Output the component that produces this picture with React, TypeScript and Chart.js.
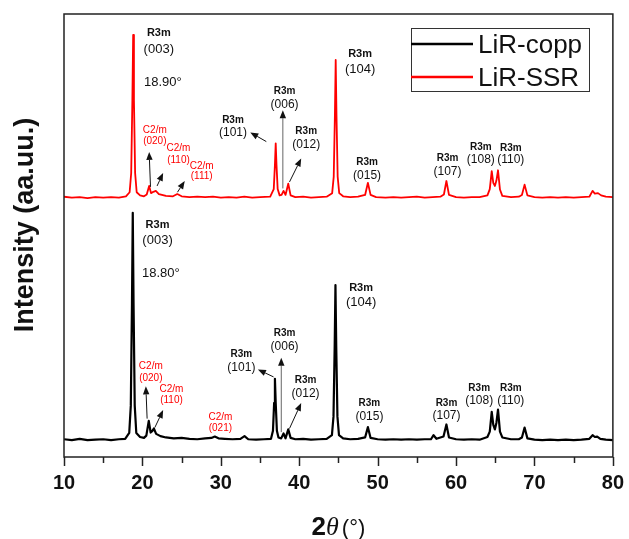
import React, { useEffect, useRef } from 'react';
import { Chart, registerables } from 'chart.js';

Chart.register(...registerables);

// ---- Data (2θ in degrees, intensity in arbitrary units; LiR-SSR is stacked above LiR-copp) ----
const copp2Theta = [
  10, 11, 12, 13, 14, 15, 16, 17, 17.8, 18.32, 18.52, 18.67, 18.77, 18.87, 19.02, 19.22, 19.7, 20.2, 20.5,
  20.81, 21.05, 21.25, 21.46, 21.75, 22.3, 23, 24, 25, 26, 27, 28, 28.8, 29.23, 29.7, 30.5, 31.5, 32.5,
  33.02, 33.5, 34.5, 35.5, 36.4, 36.65, 36.8, 36.9, 37.0, 37.15, 37.35, 37.7, 38.0, 38.25, 38.6, 38.9,
  39.5, 40.5, 41.5, 42.5, 43.5, 44.17, 44.37, 44.52, 44.62, 44.72, 44.87, 45.07, 45.6, 46.5, 47.5, 48.4,
  48.76, 49.1, 50, 51, 52, 53, 54, 55, 56, 56.8, 57.13, 57.5, 58.4, 58.77, 59.1, 60, 61, 62, 63, 64.0,
  64.3, 64.55, 64.75, 64.95, 65.15, 65.35, 65.6, 65.9, 67, 68, 68.4, 68.74, 69.1, 70, 71, 72, 73, 74, 75,
  76, 77.0, 77.41, 77.7, 78.0, 78.4, 79.1, 80,
];
const coppIntensity = [
  3.8, 3.6, 3.9, 3.6, 3.7, 3.8, 3.6, 3.8, 3.9, 5.2, 11.3, 34.1, 54.3, 34.1, 11.3, 5.2, 4.3, 4.1, 4.6,
  7.9, 5.3, 5.6, 6.2, 5.0, 4.5, 4.2, 4.0, 4.1, 3.9, 3.8, 4.0, 4.1, 4.4, 4.0, 3.9, 3.8, 3.9,
  4.5, 3.8, 3.7, 3.8, 3.9, 5.7, 11.9, 17.3, 11.9, 5.7, 4.2, 4.0, 5.1, 4.0, 6.0, 4.1,
  3.8, 3.9, 3.7, 3.8, 3.9, 4.7, 8.9, 24.4, 38.2, 24.4, 8.9, 4.7, 4.0, 3.8, 3.9, 4.2,
  6.5, 4.1, 3.8, 3.7, 3.8, 3.7, 3.8, 3.7, 3.8, 3.8, 4.7, 3.9, 4.4, 7.1, 4.2, 3.8, 3.7, 3.8, 3.7, 4.3,
  5.5, 9.9, 7.0, 6.0, 7.5, 10.4, 5.5, 4.2, 3.8, 3.8, 4.2, 6.4, 4.0, 3.7, 3.6, 3.7, 3.6, 3.7, 3.6,
  3.7, 3.9, 4.7, 4.3, 4.4, 3.9, 3.7, 3.6,
];

const ssr2Theta = [
  10, 11, 12, 13, 14, 15, 16, 17, 17.9, 18.37, 18.57, 18.72, 18.82, 18.92, 19.07, 19.27, 19.7, 20.2, 20.55,
  20.86, 21.1, 21.4, 21.71, 22.1, 23, 23.9, 24.45, 25.0, 26, 27, 28, 29, 30, 31, 32, 33, 34, 35, 36.3,
  36.75, 36.9, 37.0, 37.1, 37.25, 37.5, 37.75, 38.0, 38.25, 38.6, 38.9, 39.5, 40.5, 41.5, 42.5, 43.5,
  44.2, 44.4, 44.55, 44.65, 44.75, 44.9, 45.1, 45.6, 46.5, 47.5, 48.4, 48.76, 49.1, 49.8, 51, 52, 53, 54,
  55, 56, 57, 58.0, 58.45, 58.77, 59.1, 60, 61, 62, 63, 64.0, 64.3, 64.55, 64.75, 64.95, 65.15, 65.35,
  65.6, 65.9, 67, 68, 68.4, 68.74, 69.1, 70, 71, 72, 73, 74, 75, 76, 77.0, 77.41, 77.7, 78.1, 78.5, 79.1, 80,
];
const ssrIntensity = [
  57.9, 57.7, 57.8, 57.6, 57.8, 57.7, 57.8, 57.7, 58.0, 58.9, 63.2, 79.5, 94.0, 79.5, 63.2, 58.9, 58.2, 58.0, 58.4,
  60.3, 58.7, 59.0, 59.2, 58.5, 58.1, 58.0, 58.5, 58.0, 57.8, 57.9, 57.8, 57.9, 57.7, 57.8, 57.7, 57.9, 57.7, 57.8, 57.9,
  59.6, 65.0, 69.8, 65.0, 59.6, 58.2, 58.3, 59.2, 58.3, 60.8, 58.2, 57.8, 57.9, 57.7, 57.8, 57.9,
  58.7, 62.4, 76.2, 88.4, 76.2, 62.4, 58.7, 58.0, 57.8, 57.9, 58.3, 61.0, 58.3, 57.8, 57.7, 57.8, 57.7, 57.8,
  57.9, 57.7, 57.8, 57.9, 58.4, 61.4, 58.3, 57.8, 57.7, 57.8, 57.8, 58.2, 59.6, 63.6, 61.0, 60.3, 61.5, 63.8,
  59.5, 58.1, 57.8, 57.9, 58.3, 60.6, 58.2, 57.8, 57.7, 57.8, 57.7, 57.8, 57.7, 57.8, 57.9, 59.2, 58.6, 58.7, 58.2, 57.9, 57.8,
];

const seriesNames = ['LiR-copp', 'LiR-SSR'];
const seriesColors = ['#000000', '#ff0000'];
const xMin = 10;
const xMax = 80;
const xStep = 5;

// Peak annotations: [text, 2θ, intensity, style]
const peakLabels: [string, number, number, string][] = [
  ['R3m', 22.09, 94.35, 'phaseL'], ['(003)', 22.09, 90.8, 'hklL'], ['18.90°', 22.6, 83.5, 'note'],
  ['C2/m', 21.58, 72.8, 'c2'], ['(020)', 21.58, 70.2, 'c2'],
  ['C2/m', 24.6, 68.7, 'c2'], ['(110)', 24.6, 66.1, 'c2'],
  ['C2/m', 27.56, 64.8, 'c2'], ['(111)', 27.56, 62.5, 'c2'],
  ['R3m', 31.55, 75.0, 'phase'], ['(101)', 31.55, 72.25, 'hkl'],
  ['R3m', 38.13, 81.5, 'phase'], ['(006)', 38.13, 78.35, 'hkl'],
  ['R3m', 40.89, 72.4, 'phase'], ['(012)', 40.89, 69.4, 'hkl'],
  ['R3m', 47.76, 89.7, 'phaseL'], ['(104)', 47.76, 86.2, 'hklL'],
  ['R3m', 48.65, 65.5, 'phase'], ['(015)', 48.65, 62.7, 'hkl'],
  ['R3m', 58.91, 66.45, 'phase'], ['(107)', 58.91, 63.5, 'hkl'],
  ['R3m', 63.16, 69.0, 'phase'], ['(108)', 63.16, 66.1, 'hkl'],
  ['R3m', 66.98, 68.8, 'phase'], ['(110)', 66.98, 66.1, 'hkl'],
  ['R3m', 21.93, 51.6, 'phaseL'], ['(003)', 21.93, 48.1, 'hklL'], ['18.80°', 22.35, 40.9, 'note'],
  ['C2/m', 21.07, 20.1, 'c2'], ['(020)', 21.07, 17.3, 'c2'],
  ['C2/m', 23.71, 14.9, 'c2'], ['(110)', 23.71, 12.5, 'c2'],
  ['C2/m', 29.94, 8.6, 'c2'], ['(021)', 29.94, 6.2, 'c2'],
  ['R3m', 32.62, 22.8, 'phase'], ['(101)', 32.62, 19.8, 'hkl'],
  ['R3m', 38.13, 27.5, 'phase'], ['(006)', 38.13, 24.55, 'hkl'],
  ['R3m', 40.81, 17.0, 'phase'], ['(012)', 40.81, 14.0, 'hkl'],
  ['R3m', 47.89, 37.65, 'phaseL'], ['(104)', 47.89, 34.4, 'hklL'],
  ['R3m', 48.95, 11.8, 'phase'], ['(015)', 48.95, 8.8, 'hkl'],
  ['R3m', 58.78, 11.9, 'phase'], ['(107)', 58.78, 9.15, 'hkl'],
  ['R3m', 62.95, 15.1, 'phase'], ['(108)', 62.95, 12.3, 'hkl'],
  ['R3m', 66.98, 15.25, 'phase'], ['(110)', 66.98, 12.5, 'hkl'],
];

// Arrows: [from 2θ, from I, to 2θ, to I, vertical-guide flag]
const peakArrows: [number, number, number, number, number][] = [
  [21.03, 60.1, 20.86, 67.9, 0], [21.87, 60.3, 22.64, 63.2, 0], [24.47, 58.9, 25.4, 61.4, 0],
  [35.8, 70.2, 33.76, 72.25, 0], [37.91, 59.75, 37.91, 77.2, 1], [38.76, 61.2, 40.25, 66.45, 0],
  [20.6, 8.4, 20.44, 15.6, 0], [21.58, 6.4, 22.64, 10.3, 0], [36.73, 17.7, 34.73, 19.35, 0],
  [37.71, 5.4, 37.71, 22.0, 1], [38.76, 6.2, 40.25, 11.9, 0],
];

const SANS = '"Liberation Sans", Arial, Helvetica, sans-serif';
const labelStyles: Record<string, { font: string; color: string }> = {
  phaseL: { font: `bold 11px ${SANS}`, color: '#111' },
  phase: { font: `bold 10px ${SANS}`, color: '#111' },
  hklL: { font: `13px ${SANS}`, color: '#111' },
  hkl: { font: `12px ${SANS}`, color: '#111' },
  note: { font: `13px ${SANS}`, color: '#111' },
  c2: { font: `10px ${SANS}`, color: '#ff0000' },
};

const overlayPlugin = {
  id: 'xrdOverlay',
  afterDatasetsDraw(chart: any) {
    const { ctx, chartArea: ca, scales } = chart;
    const xs = scales.x;
    const ys = scales.y;
    ctx.save();

    // frame
    ctx.strokeStyle = '#222';
    ctx.lineWidth = 1.5;
    ctx.strokeRect(ca.left, ca.top, ca.right - ca.left, ca.bottom - ca.top);

    // tick marks (major every 10, minor every 5)
    for (const t of xs.ticks) {
      const px = Math.round(xs.getPixelForValue(t.value)) + 0.5;
      const len = t.value % 10 === 0 ? 9 : 6;
      ctx.beginPath();
      ctx.moveTo(px, ca.bottom);
      ctx.lineTo(px, ca.bottom + len);
      ctx.stroke();
    }

    // arrows
    for (const [x1, y1, x2, y2, guide] of peakArrows) {
      const ax = xs.getPixelForValue(x1);
      const ay = ys.getPixelForValue(y1);
      const bx = xs.getPixelForValue(x2);
      const by = ys.getPixelForValue(y2);
      const ang = Math.atan2(by - ay, bx - ax);
      const hl = 8;
      const hw = 3.2;
      const baseX = bx - hl * Math.cos(ang);
      const baseY = by - hl * Math.sin(ang);
      ctx.strokeStyle = guide ? '#666' : '#111';
      ctx.lineWidth = 1;
      ctx.beginPath();
      ctx.moveTo(ax, ay);
      ctx.lineTo(baseX, baseY);
      ctx.stroke();
      ctx.fillStyle = '#111';
      ctx.beginPath();
      ctx.moveTo(bx, by);
      ctx.lineTo(baseX + hw * Math.sin(ang), baseY - hw * Math.cos(ang));
      ctx.lineTo(baseX - hw * Math.sin(ang), baseY + hw * Math.cos(ang));
      ctx.closePath();
      ctx.fill();
    }

    // peak labels
    ctx.textAlign = 'center';
    ctx.textBaseline = 'middle';
    for (const [text, x, y, style] of peakLabels) {
      const st = labelStyles[style];
      ctx.font = st.font;
      ctx.fillStyle = st.color;
      ctx.fillText(text, xs.getPixelForValue(x), ys.getPixelForValue(y));
    }

    // legend
    const lx = ca.left + 347;
    const ly = ca.top + 14;
    ctx.strokeStyle = '#333';
    ctx.lineWidth = 1;
    ctx.strokeRect(lx + 0.5, ly + 0.5, 178, 63);
    ctx.font = `26px ${SANS}`;
    ctx.textAlign = 'left';
    ctx.textBaseline = 'alphabetic';
    seriesNames.forEach((name, i) => {
      const yy = ly + 16 + i * 33;
      ctx.strokeStyle = seriesColors[i];
      ctx.lineWidth = 2.5;
      ctx.beginPath();
      ctx.moveTo(lx, yy);
      ctx.lineTo(lx + 62, yy);
      ctx.stroke();
      ctx.fillStyle = '#111';
      ctx.fillText(name, lx + 67, yy + 9);
    });

    // y title
    ctx.save();
    ctx.translate(ca.left - 31, ca.top + 211);
    ctx.rotate(-Math.PI / 2);
    ctx.font = `bold 27px ${SANS}`;
    ctx.fillStyle = '#111';
    ctx.textAlign = 'center';
    ctx.textBaseline = 'alphabetic';
    ctx.fillText('Intensity (aa.uu.)', 0, 0);
    ctx.restore();

    // x title: 2θ(°)
    const parts: [string, string][] = [
      ['2', `bold 26px ${SANS}`],
      ['\u03b8', `italic 26px "Liberation Serif", "Times New Roman", serif`],
      ['(°)', `22px ${SANS}`],
    ];
    let total = 0;
    const widths = parts.map(([t, f]) => {
      ctx.font = f;
      const w = ctx.measureText(t).width;
      total += w;
      return w;
    });
    total += 3;
    let cx = (ca.left + ca.right) / 2 - total / 2;
    const by = ca.bottom + 78;
    ctx.fillStyle = '#111';
    ctx.textAlign = 'left';
    parts.forEach(([t, f], i) => {
      ctx.font = f;
      ctx.fillText(t, cx, by);
      cx += widths[i] + (i === 1 ? 3 : 0);
    });

    ctx.restore();
  },
};

export default function App() {
  const canvasRef = useRef<HTMLCanvasElement | null>(null);

  useEffect(() => {
    document.body.style.margin = '0';
    const canvas = canvasRef.current;
    if (!canvas) return;
    const chart = new Chart(canvas, {
      type: 'line',
      data: {
        datasets: [
          {
            label: seriesNames[0],
            data: copp2Theta.map((x, i) => ({ x, y: coppIntensity[i] })),
            borderColor: seriesColors[0],
            borderWidth: 2.2,
            pointRadius: 0,
            tension: 0,
            borderJoinStyle: 'round',
            fill: false,
          },
          {
            label: seriesNames[1],
            data: ssr2Theta.map((x, i) => ({ x, y: ssrIntensity[i] })),
            borderColor: seriesColors[1],
            borderWidth: 1.8,
            pointRadius: 0,
            tension: 0,
            borderJoinStyle: 'round',
            fill: false,
          },
        ],
      },
      options: {
        animation: false,
        responsive: false,
        devicePixelRatio: 1,
        layout: { padding: { top: 14, right: 15, left: 0, bottom: 0 } },
        plugins: { legend: { display: false }, tooltip: { enabled: false } },
        scales: {
          x: {
            type: 'linear',
            min: xMin,
            max: xMax,
            ticks: {
              stepSize: xStep,
              autoSkip: false,
              maxRotation: 0,
              padding: 5,
              color: '#111',
              font: { family: SANS, size: 20, weight: 'bold' },
              callback: (v: any) => (Number(v) % 10 === 0 ? String(v) : ''),
            },
            grid: { drawOnChartArea: false, tickLength: 9, tickColor: 'rgba(0,0,0,0)' },
            border: { display: false },
            afterFit: (s: any) => {
              s.height = 82;
            },
          },
          y: {
            type: 'linear',
            min: -0.16,
            max: 98.66,
            ticks: { display: false },
            grid: { display: false },
            border: { display: false },
            afterFit: (s: any) => {
              s.width = 64;
            },
          },
        },
      } as any,
      plugins: [overlayPlugin],
    });
    return () => chart.destroy();
  }, []);

  return <canvas ref={canvasRef} width={629} height={539} style={{ display: 'block' }} />;
}
